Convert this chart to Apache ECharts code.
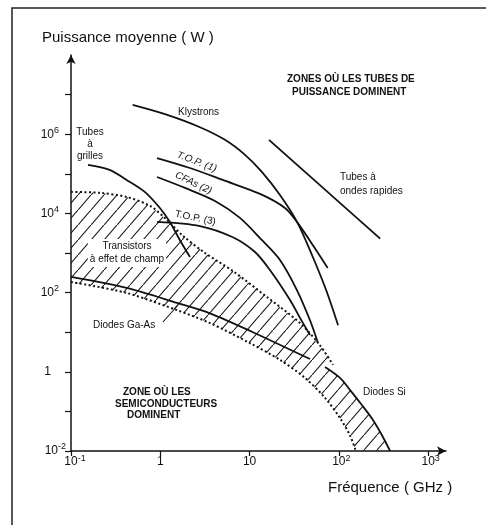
<!DOCTYPE html>
<html><head><meta charset="utf-8">
<script src="https://cdn.jsdelivr.net/npm/echarts@6/dist/echarts.min.js"></script>
<style>html,body{margin:0;padding:0;background:#fff}#c{width:486px;height:525px}</style>
</head><body><div id="c"></div>
<script>
// ---- axis ticks (data units) ----
const xTickValues = [0.1, 1, 10, 100, 1000];            // GHz
const yTickValues = [0.01, 0.1, 1, 10, 100, 1e3, 1e4, 1e5, 1e6, 1e7]; // W
const yLabelValues = [0.01, 1, 100, 1e4, 1e6];

// ---- curves (frequency GHz, average power W) ----
const klystronsGHz = [0.49, 1.13, 2.78, 5.3, 8.9, 13.8, 21.9, 34, 50, 72, 98];
const klystronsW   = [5.5e6, 3.2e6, 1.5e6, 7.2e5, 3.0e5, 1.1e5, 2.9e4, 6.1e3, 890, 116, 15];
const top1GHz = [0.92, 2.15, 5.0, 13.1, 24.9, 33.9, 51, 75];
const top1W   = [2.5e5, 1.4e5, 7.0e4, 3.1e4, 1.37e4, 6.1e3, 1.6e3, 420];
const ondesGHz = [16.5, 290];
const ondesW   = [7.2e5, 2.3e3];
const grillesGHz = [0.155, 0.27, 0.42, 0.67, 0.99, 1.28, 1.66, 2.15];
const grillesW   = [1.67e5, 1.25e5, 7.0e4, 3.5e4, 1.37e4, 6.1e3, 2.1e3, 790];
const cfasGHz = [0.92, 1.89, 4.1, 7.8, 13.8, 21.9, 33.9, 47.5, 58];
const cfasW   = [8.3e4, 4.4e4, 2.06e4, 7.7e3, 2.1e3, 665, 116, 20, 5.6];
const top3GHz = [0.92, 2.78, 6.5, 11.5, 16.9, 28.4, 36.7, 47.5];
const top3W   = [6.1e3, 4.8e3, 2.5e3, 1.06e3, 372, 65, 23, 8.5];
// transistor band upper limit (dotted)
const upperGHz = [0.1, 0.21, 0.42, 0.77, 1.19, 1.80, 3.17, 6.5, 15.7, 36.7, 61, 86];
const upperW   = [3.5e4, 3.3e4, 2.6e4, 1.54e4, 6.8e3, 2.7e3, 1.0e3, 350, 77, 17, 4.75, 1.5];
// lower limit (dotted)
const lowerGHz = [0.1, 0.42, 1.54, 3.6, 10.1, 21.9, 41.7, 70, 103, 133, 155];
const lowerW   = [185, 98, 36, 17, 5.3, 2.0, 0.7, 0.22, 0.068, 0.025, 0.01];
// diodes
const gaasGHz = [0.1, 0.42, 1.54, 3.6, 10.9, 47.5];
const gaasW   = [248, 131, 55, 30, 10, 2.1];
const siGHz = [70, 103, 133, 181, 241, 304, 375];
const siW   = [1.32, 0.7, 0.35, 0.145, 0.061, 0.025, 0.01];

const FONT = '"Liberation Sans", Arial, Helvetica, sans-serif';
const L = Math.log10;
const pts = (xs, ys) => xs.map((x, i) => [L(x), L(ys[i])]);

// hatched region polygon: upper limit -> Si diode -> along axis -> lower limit back
const hatchPoly = pts(upperGHz, upperW)
  .concat(pts(siGHz, siW))
  .concat(pts(lowerGHz, lowerW).reverse());

// hatch pattern
const hc = document.createElement('canvas');
hc.width = 13; hc.height = 15;
const g = hc.getContext('2d');
g.strokeStyle = '#151515'; g.lineWidth = 1.1;
g.beginPath(); g.moveTo(-1.3, 16.5); g.lineTo(14.3, -1.5); g.stroke();

function solid(name, xs, ys, smooth) {
  return { name, type: 'line', data: pts(xs, ys), symbol: 'none', smooth: smooth == null ? 0.3 : smooth,
    lineStyle: { color: '#111', width: 1.8 }, z: 3, silent: true };
}
function dotted(name, xs, ys) {
  return { name, type: 'line', data: pts(xs, ys), symbol: 'none', smooth: 0.3,
    lineStyle: { color: '#111', width: 2, type: [2, 2.5] }, z: 3, silent: true };
}

const chart = echarts.init(document.getElementById('c'), null, { renderer: 'canvas' });
chart.setOption({
  animation: false,
  backgroundColor: '#fff',
  grid: { left: 71, right: 40, top: 55, bottom: 74, containLabel: false, outerBoundsMode: 'none' },
  xAxis: {
    type: 'value', min: -1, max: 3.2, interval: 1,
    axisLine: { show: true, onZero: false, lineStyle: { color: '#111', width: 1.5 },
      symbol: ['none', 'arrow'], symbolSize: [7, 9] },
    axisTick: { show: true, length: 5, lineStyle: { color: '#111', width: 1.2 },
      customValues: xTickValues.map(L) },
    splitLine: { show: false },
    axisLabel: {
      customValues: xTickValues.map(L), margin: 3, color: '#111', fontFamily: FONT,
      formatter: (v) => {
        if (v === -1) return '{l|x}{b|10}{s|-1}';
        if (v === 0) return '{s| }{b|1}{s| }';
        if (v === 1) return '{s| }{b|10}{s| }';
        return '{m|x}{b|10}{s|' + v + '}';
      },
      rich: {
        b: { fontSize: 12, fontFamily: FONT, color: '#111' },
        s: { fontSize: 9, fontFamily: FONT, color: '#111', padding: [0, 0, 7, 0] },
        l: { width: 8, color: 'rgba(0,0,0,0)', fontSize: 9 },
        m: { width: 5, color: 'rgba(0,0,0,0)', fontSize: 9 }
      }
    }
  },
  yAxis: {
    type: 'value', min: -2, max: 8, interval: 1,
    axisLine: { show: true, onZero: false, lineStyle: { color: '#111', width: 1.5 },
      symbol: ['none', 'arrow'], symbolSize: [7, 9] },
    axisTick: { show: true, length: 6, lineStyle: { color: '#111', width: 1.2 },
      customValues: yTickValues.map(L) },
    splitLine: { show: false },
    axisLabel: {
      customValues: yLabelValues.map(L), margin: 4, color: '#111', fontFamily: FONT,
      formatter: (v) => {
        if (v === 0) return '{b|1}{p2|x}';
        if (v === -2) return '{b|10}{s|-2}{p0|x}';
        return '{b|10}{s|' + v + '}{p|x}';
      },
      rich: {
        b: { fontSize: 12, fontFamily: FONT, color: '#111' },
        s: { fontSize: 9, fontFamily: FONT, color: '#111', padding: [0, 0, 8, 0] },
        p: { width: 8, color: 'rgba(0,0,0,0)', fontSize: 9 },
        p0: { width: 1, color: 'rgba(0,0,0,0)', fontSize: 9 },
        p2: { width: 16, color: 'rgba(0,0,0,0)', fontSize: 9 }
      }
    }
  },
  series: [
    {
      name: 'hatch', type: 'custom', silent: true, z: 1, data: [[0, 0]],
      renderItem: (params, api) => ({
        type: 'polygon',
        shape: { points: hatchPoly.map(p => api.coord(p)) },
        style: { fill: { image: hc, repeat: 'repeat' }, stroke: null }
      })
    },
    solid('Klystrons', klystronsGHz, klystronsW),
    solid('T.O.P. (1)', top1GHz, top1W),
    solid('Tubes à ondes rapides', ondesGHz, ondesW, 0),
    solid('Tubes à grilles', grillesGHz, grillesW),
    solid('CFAs (2)', cfasGHz, cfasW),
    solid('T.O.P. (3)', top3GHz, top3W),
    solid('Diodes Ga-As', gaasGHz, gaasW),
    solid('Diodes Si', siGHz, siW),
    dotted('Limite haute', upperGHz, upperW),
    dotted('Limite basse', lowerGHz, lowerW)
  ],
  graphic: [
    { type: 'rect', silent: true, shape: { x: 12, y: 8, width: 520, height: 540 },
      style: { fill: 'none', stroke: '#222', lineWidth: 1.5 } },
    { type: 'text', x: 42, y: 30, style: { text: 'Puissance moyenne ( W )', font: '15px ' + FONT, fill: '#111' } },
    { type: 'text', x: 328, y: 480, style: { text: 'Fréquence ( GHz )', font: '15px ' + FONT, fill: '#111' } },
    { type: 'text', x: 287, y: 74, style: { text: 'ZONES OÙ LES TUBES DE', font: 'bold 10px ' + FONT, fill: '#111' } },
    { type: 'text', x: 292, y: 87, style: { text: 'PUISSANCE DOMINENT', font: 'bold 10px ' + FONT, fill: '#111' } },
    { type: 'text', x: 178, y: 107, style: { text: 'Klystrons', font: '10px ' + FONT, fill: '#111' } },
    { type: 'text', x: 90, y: 126, style: { text: 'Tubes\nà\ngrilles', font: '10px ' + FONT, fill: '#111', align: 'center', lineHeight: 12 } },
    { type: 'text', x: 179, y: 150, rotation: -0.36, style: { text: 'T.O.P. (1)', font: 'italic 10px ' + FONT, fill: '#111' } },
    { type: 'text', x: 178, y: 170, rotation: -0.45, style: { text: 'CFAs (2)', font: 'italic 10px ' + FONT, fill: '#111' } },
    { type: 'text', x: 176, y: 209, rotation: -0.2, style: { text: 'T.O.P. (3)', font: '10px ' + FONT, fill: '#111' } },
    { type: 'text', x: 340, y: 170, style: { text: 'Tubes à\nondes rapides', font: '10px ' + FONT, fill: '#111', lineHeight: 14 } },
    { type: 'text', x: 127, y: 239, z: 10, style: { text: 'Transistors\nà effet de champ', font: '10px ' + FONT, fill: '#111', align: 'center', lineHeight: 13, backgroundColor: '#fff', padding: [1, 2, 1, 2] } },
    { type: 'text', x: 93, y: 320, style: { text: 'Diodes Ga-As', font: '10px ' + FONT, fill: '#111' } },
    { type: 'text', x: 363, y: 387, style: { text: 'Diodes Si', font: '10px ' + FONT, fill: '#111' } },
    { type: 'text', x: 123, y: 387, style: { text: 'ZONE OÙ LES', font: 'bold 10px ' + FONT, fill: '#111' } },
    { type: 'text', x: 115, y: 399, style: { text: 'SEMICONDUCTEURS', font: 'bold 10px ' + FONT, fill: '#111' } },
    { type: 'text', x: 127, y: 410, style: { text: 'DOMINENT', font: 'bold 10px ' + FONT, fill: '#111' } },
    { type: 'line', silent: true, shape: { x1: 163, y1: 322, x2: 178, y2: 305 }, style: { stroke: '#111', lineWidth: 1.1 } }
  ]
});
</script>
</body></html>
